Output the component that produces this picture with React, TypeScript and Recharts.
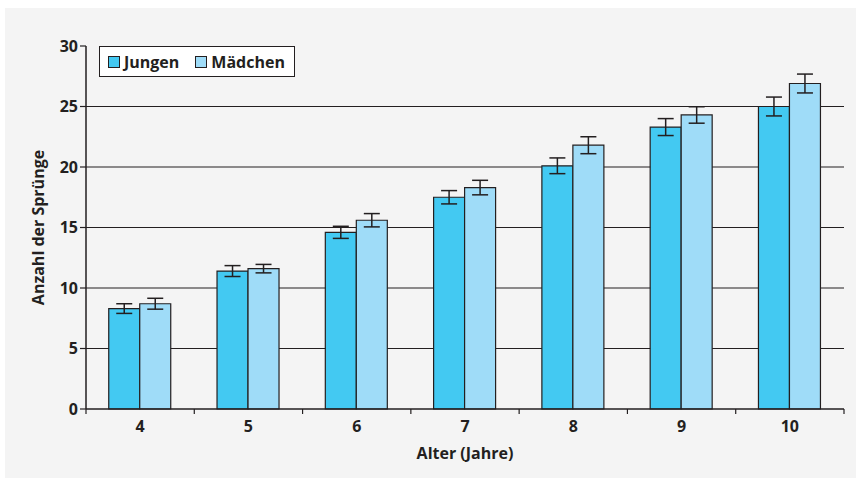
import { BarChart, Bar, XAxis, YAxis, CartesianGrid, Legend, ErrorBar, Label } from "recharts";

const ages = ["4", "5", "6", "7", "8", "9", "10"];
const jungen = [8.3, 11.4, 14.6, 17.5, 20.1, 23.3, 25.0];
const maedchen = [8.7, 11.6, 15.6, 18.3, 21.8, 24.3, 26.9];
const jungenErr = [0.4, 0.45, 0.5, 0.55, 0.65, 0.7, 0.78];
const maedchenErr = [0.45, 0.35, 0.55, 0.6, 0.7, 0.68, 0.78];
const yTicks = [0, 5, 10, 15, 20, 25, 30];
const gridValues = [5, 10, 15, 20, 25];
const Y_MAX = 30;

const data = ages.map((age, i) => ({
  age,
  jungen: jungen[i],
  maedchen: maedchen[i],
  jungenErr: jungenErr[i],
  maedchenErr: maedchenErr[i],
}));

const WIDTH = 851;
const HEIGHT = 470;
const MARGIN = { top: 38, right: 12, bottom: 0, left: 0 };
const Y_WIDTH = 81;
const X_HEIGHT = 69;
const band = (WIDTH - MARGIN.left - MARGIN.right - Y_WIDTH) / ages.length;

const FONT = "'Open Sans', sans-serif";
const INK = "#231f20";
const FS = 16;

// grid lines only at the inner ticks (no line at the top value)
const gridRows = ({ offset }: any) =>
  gridValues.map((v) => offset.top + offset.height * (1 - v / Y_MAX));

const AgeTick = (props: any) => {
  const { x, y, payload, index } = props;
  const half = band / 2;
  return (
    <g>
      <line x1={x - half} x2={x - half} y1={y - 8} y2={y - 3} stroke={INK} strokeWidth={1.2} />
      {index === ages.length - 1 && (
        <line x1={x + half} x2={x + half} y1={y - 8} y2={y - 3} stroke={INK} strokeWidth={1.2} />
      )}
      <text x={x} y={y + 15} textAnchor="middle" fill={INK} fontSize={FS} fontWeight={700} fontFamily={FONT}>
        {payload.value}
      </text>
    </g>
  );
};

const LegendBox = (props: any) => {
  const items = props.payload || [];
  return (
    <div
      style={{
        display: "flex",
        alignItems: "center",
        background: "#fff",
        border: `1.5px solid ${INK}`,
        height: 31,
        width: 196,
        boxSizing: "border-box",
        padding: "0 0 0 8px",
        fontFamily: FONT,
        fontWeight: 700,
        fontSize: FS,
        color: INK,
      }}
    >
      {items.map((it: any, i: number) => (
        <div key={i} style={{ display: "flex", alignItems: "center", marginRight: i === 0 ? 16 : 0 }}>
          <span
            style={{
              display: "inline-block",
              width: 12,
              height: 12,
              boxSizing: "border-box",
              background: it.color,
              border: `1px solid ${INK}`,
              marginRight: 4,
            }}
          />
          <span>{it.value}</span>
        </div>
      ))}
    </div>
  );
};

export default function App() {
  return (
    <div style={{ position: "absolute", left: 0, top: 0, width: 856, height: 478, background: "#fff" }}>
      <div style={{ position: "absolute", left: 5, top: 8, width: WIDTH, height: HEIGHT, background: "#f4f4f4" }}>
        <BarChart
          width={WIDTH}
          height={HEIGHT}
          data={data}
          margin={MARGIN}
          barCategoryGap="21%"
          barGap={0}
        >
          <CartesianGrid
            vertical={false}
            stroke={INK}
            strokeWidth={1.2}
            horizontalCoordinatesGenerator={gridRows}
          />
          <XAxis
            dataKey="age"
            height={X_HEIGHT}
            tickLine={false}
            axisLine={{ stroke: INK, strokeWidth: 1.5 }}
            tick={<AgeTick />}
            interval={0}
          >
            <Label
              value="Alter (Jahre)"
              position="insideBottom"
              offset={19}
              fill={INK}
              fontSize={FS}
              fontWeight={700}
              fontFamily={FONT}
            />
          </XAxis>
          <YAxis
            width={Y_WIDTH}
            domain={[0, Y_MAX]}
            ticks={yTicks}
            interval={0}
            tickSize={6}
            tickLine={{ stroke: INK, strokeWidth: 1.2 }}
            axisLine={{ stroke: INK, strokeWidth: 1.5 }}
            tick={{ fill: INK, fontSize: FS, fontWeight: 700, fontFamily: FONT }}
          >
            <Label
              content={({ viewBox }: any) => (
                <text
                  x={33}
                  y={viewBox.y + viewBox.height / 2}
                  transform={`rotate(-90 33 ${viewBox.y + viewBox.height / 2})`}
                  textAnchor="middle"
                  dominantBaseline="central"
                  fill={INK}
                  fontSize={FS}
                  fontWeight={700}
                  fontFamily={FONT}
                >
                  Anzahl der Sprünge
                </text>
              )}
            />
          </YAxis>
          <Legend
            layout="horizontal"
            verticalAlign="middle"
            align="center"
            content={<LegendBox />}
            wrapperStyle={{ position: "absolute", left: 94, top: 38, width: "auto" }}
          />
          <Bar dataKey="jungen" name="Jungen" fill="#43c9f2" stroke={INK} strokeWidth={1.2} isAnimationActive={false}>
            <ErrorBar dataKey="jungenErr" width={8} stroke={INK} strokeWidth={1.5} />
          </Bar>
          <Bar dataKey="maedchen" name="Mädchen" fill="#9fdcf8" stroke={INK} strokeWidth={1.2} isAnimationActive={false}>
            <ErrorBar dataKey="maedchenErr" width={8} stroke={INK} strokeWidth={1.5} />
          </Bar>
        </BarChart>
      </div>
    </div>
  );
}
